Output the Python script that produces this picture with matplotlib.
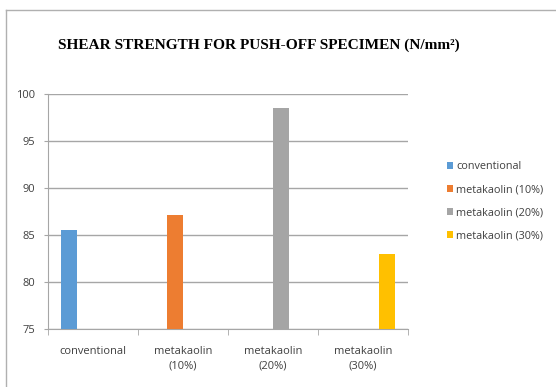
import numpy as np
import matplotlib.pyplot as plt
from matplotlib.lines import Line2D

# shear strength of push-off specimens (N/mm2)
categories = ["conventional", "metakaolin\n(10%)", "metakaolin\n(20%)", "metakaolin\n(30%)"]
series_names = ["conventional", "metakaolin (10%)", "metakaolin (20%)", "metakaolin (30%)"]
strength = [85.5, 87.1, 98.5, 83.0]
colors = ["#5b9bd5", "#ed7d31", "#a5a5a5", "#ffc000"]

fig = plt.figure(figsize=(5.56, 3.87), dpi=100)
ax = fig.add_axes([48 / 556, 1 - 329 / 387, 360 / 556, 235 / 387])

# each series sits in its own slot of a 4-wide cluster (excel style)
X = np.arange(len(categories))
width = 0.18
for i, (name, val, c) in enumerate(zip(series_names, strength, colors)):
    ax.bar(X[i] + (i - 1.5) * width, val - 75, bottom=75, width=width,
           color=c, label=name, zorder=3)

ax.set_xlim(-0.5, 3.5)
ax.set_ylim(75, 100)
ax.set_yticks([75, 80, 85, 90, 95, 100])
ax.yaxis.grid(True, color="#a6a6a6", linewidth=1, zorder=0)

ax.set_xticks(X)
ax.set_xticklabels(categories, fontsize=8, color="#404040", fontfamily="Open Sans",
                   linespacing=1.5)
ax.set_xticks(np.arange(-0.5, 4, 1), minor=True)
ax.tick_params(axis="x", which="major", length=0, pad=12)
ax.tick_params(axis="x", which="minor", length=4, color="#a6a6a6")
ax.tick_params(axis="y", length=3, color="#a6a6a6", labelsize=8, labelcolor="#404040", pad=6)
for lab in ax.get_yticklabels():
    lab.set_fontfamily("Open Sans")

for side in ["top", "right"]:
    ax.spines[side].set_visible(False)
ax.spines["left"].set_color("#a6a6a6")
ax.spines["bottom"].set_color("#a6a6a6")

leg = ax.legend(loc="upper left", bbox_to_anchor=(1.08, 0.755), frameon=False,
                prop={"family": "Open Sans", "size": 7.8}, handlelength=0.6,
                handleheight=0.6, handletextpad=0.3, labelspacing=1.1)
for t in leg.get_texts():
    t.set_color("#404040")

fig.text(259 / 556, 1 - 45 / 387, "SHEAR STRENGTH FOR PUSH-OFF SPECIMEN (N/mm²)",
         ha="center", va="center", fontsize=11.1, fontweight="bold",
         fontfamily="Liberation Serif")

# chart area frame (top and left edges)
fig.add_artist(Line2D([6 / 556, 1], [1 - 10 / 387, 1 - 10 / 387], color="#b0b0b0", lw=1))
fig.add_artist(Line2D([6 / 556, 6 / 556], [0, 1 - 10 / 387], color="#b0b0b0", lw=1))

plt.savefig("out.png", dpi=100)
